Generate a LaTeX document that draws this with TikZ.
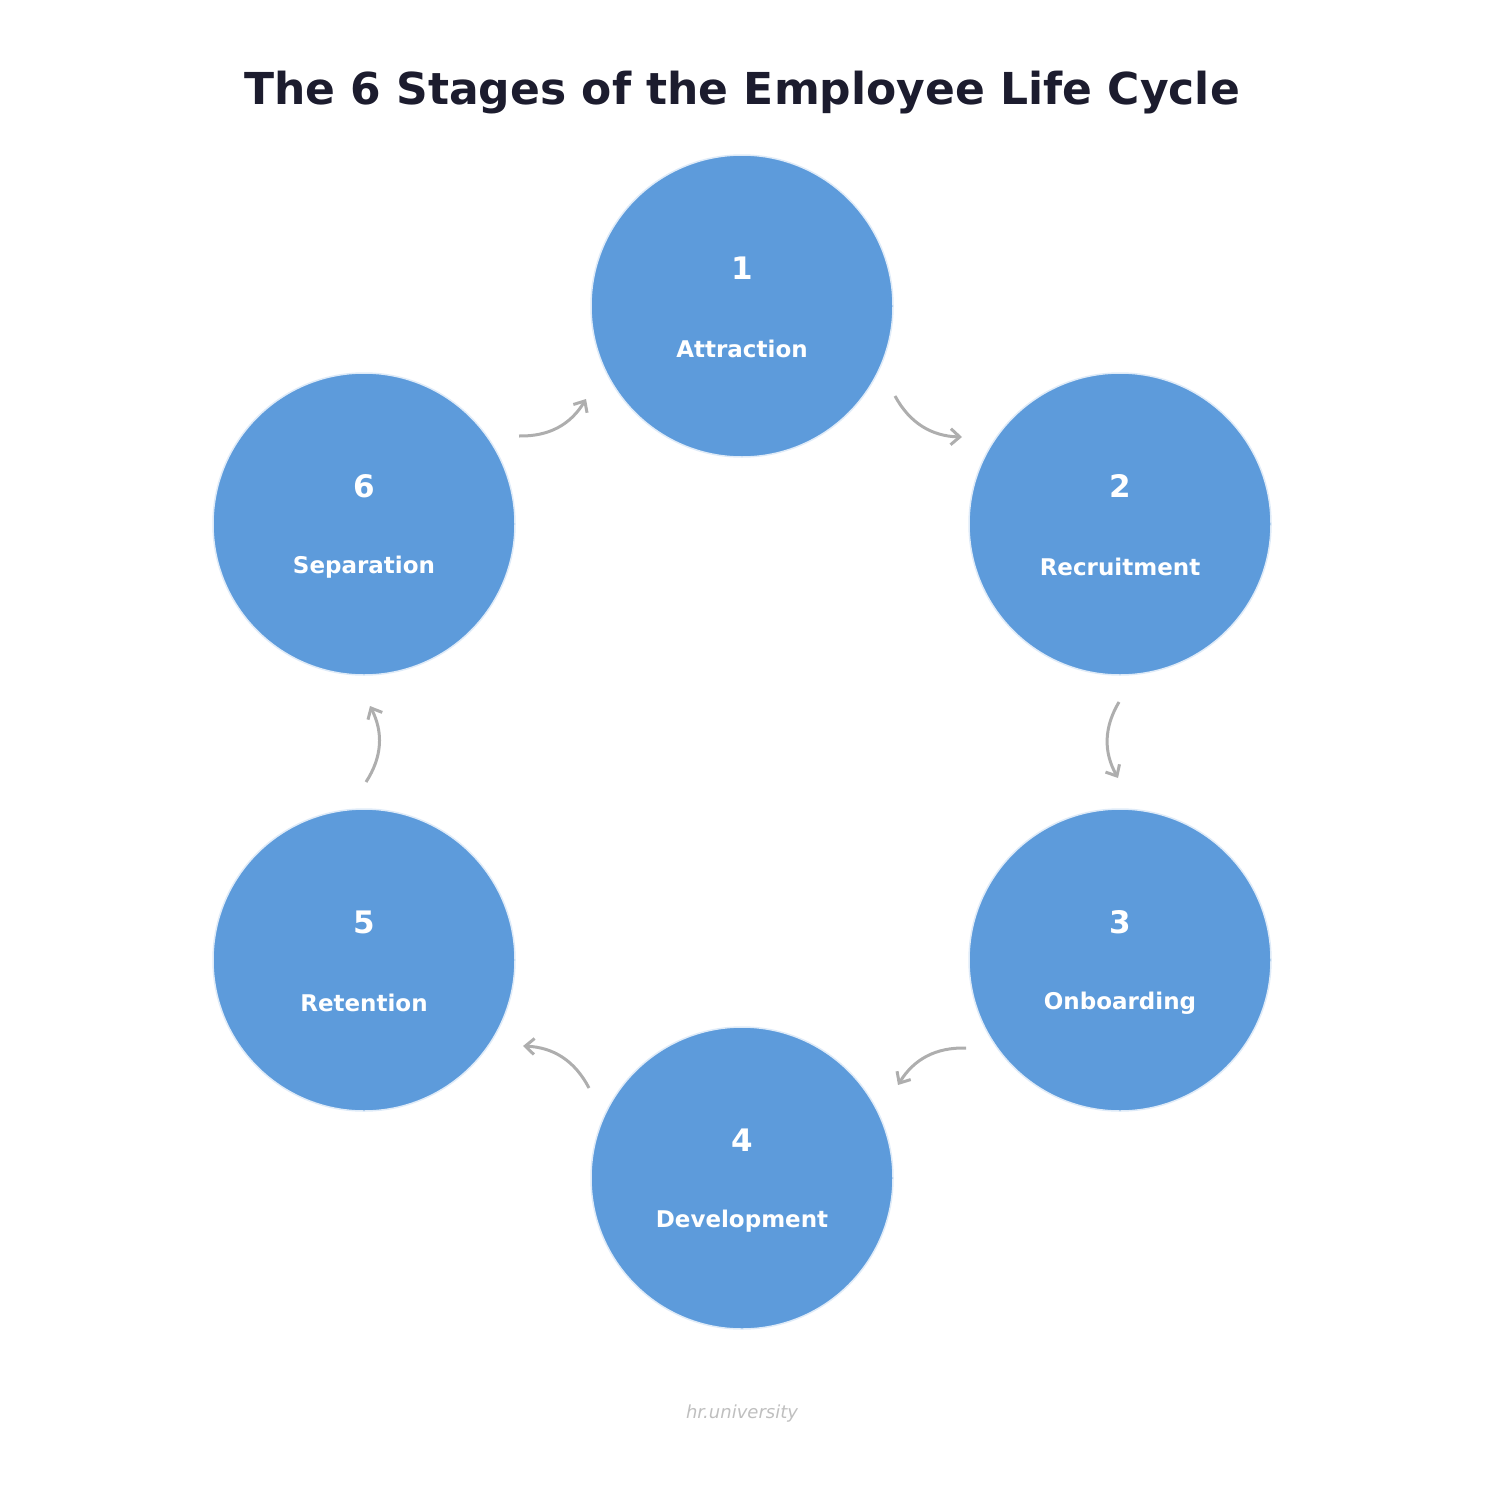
\documentclass[tikz,border=0pt]{standalone}
\usepackage{fontspec}
\setmainfont{DejaVu Sans}
\usetikzlibrary{arrows.meta}
\definecolor{stage}{HTML}{5D9BDB}
\definecolor{arr}{HTML}{AEAEAE}
\definecolor{ttl}{HTML}{1C1C2E}
\tikzset{
 stagecirc/.style={circle,fill=stage,draw=stage!20,line width=1.5pt,minimum size=302pt,inner sep=0pt},
 num/.style={text=white,font=\bfseries\fontsize{31}{31}\selectfont},
 lbl/.style={text=white,font=\bfseries\fontsize{23}{23}\selectfont},
 flow/.style={draw=arr,line width=3pt,-{Straight Barb[length=9pt,width=16pt]},bend right=30}
}
\begin{document}
\begin{tikzpicture}[x=1pt,y=-1pt]
\useasboundingbox (0,0) rectangle (1485,1485);
\node[text=ttl,font=\bfseries\fontsize{44}{44}\selectfont] (title) at (742,93) {The 6 Stages of the Employee Life Cycle};
\foreach \n/\x/\y/\t in {1/742/306/Attraction,2/1120/524/Recruitment,3/1120/960/Onboarding,4/742/1178/Development,5/364/960/Retention,6/364/524/Separation}{
 \node[stagecirc] (c\n) at (\x,\y) {};
 \node[num] (n\n) at (\x,\y-38) {\n};
 \node[lbl] (l\n) at (\x,\y+43) {\t};
}
\coordinate (a1) at (895,396); \coordinate (b1) at (962,437);
\coordinate (a2) at (1119,702); \coordinate (b2) at (1118,778);
\coordinate (a3) at (966,1048); \coordinate (b3) at (898,1085);
\coordinate (a4) at (589,1088); \coordinate (b4) at (523,1046);
\coordinate (a5) at (366,782); \coordinate (b5) at (370,706);
\coordinate (a6) at (519,436); \coordinate (b6) at (586,399);
\foreach \i in {1,...,6}{\draw[flow] (a\i) to (b\i);}
\node[text=black!25,font=\itshape\fontsize{18}{18}\selectfont] (wm) at (742,1414) {hr.university};
\end{tikzpicture}
\end{document}
